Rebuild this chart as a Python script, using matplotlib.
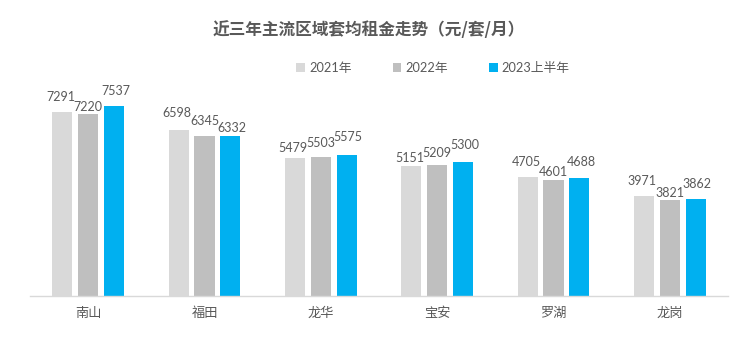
import matplotlib
matplotlib.use("Agg")
import matplotlib.pyplot as plt
from matplotlib.patches import Patch
import numpy as np

categories = ["南山", "福田", "龙华", "宝安", "罗湖", "龙岗"]
series_names = ["2021年", "2022年", "2023上半年"]
v2021 = [7291, 6598, 5479, 5151, 4705, 3971]
v2022 = [7220, 6345, 5503, 5209, 4601, 3821]
v2023h1 = [7537, 6332, 5575, 5300, 4688, 3862]

colors = ["#D9D9D9", "#BFBFBF", "#00B0F0"]
text_color = "#595959"
# label centre offsets above bar tops (px), mimicking Excel's overlap avoidance
label_dy = [
    [15, 7, 15],
    [17, 15, 8],
    [10, 14, 18],
    [8, 12, 17],
    [15, 8, 16],
    [15, 7, 15],
]
label_dx = [-1.5, 0, 1.5]

W, H = 740, 338
fig = plt.figure(figsize=(W / 100, H / 100), dpi=100)
ax_left, ax_right = 30, 728
ax_bottom = 296
ymax = 8000
px_per_unit = 190 / 7537
ax_h = ymax * px_per_unit
ax = fig.add_axes([ax_left / W, 1 - ax_bottom / H, (ax_right - ax_left) / W, ax_h / H])

x = np.arange(len(categories))
off = 0.223
bw = 0.172
series = [v2021, v2022, v2023h1]
num_font = ["Lato", "Noto Sans CJK SC"]
for j, vals in enumerate(series):
    xs = x + (j - 1) * off
    ax.bar(xs, vals, width=bw, color=colors[j], zorder=2)
    for i, (xi, v) in enumerate(zip(xs, vals)):
        ax.annotate(str(v), (xi, v), xytext=(label_dx[j] * 0.72, label_dy[i][j] * 0.72),
                    textcoords="offset points", ha="center", va="center",
                    fontsize=9.0, color=text_color, family=num_font)

ax.set_xlim(-0.5, len(categories) - 0.5)
ax.set_ylim(0, ymax)
for s in ["top", "right", "left"]:
    ax.spines[s].set_visible(False)
ax.spines["bottom"].set_color("#D9D9D9")
ax.spines["bottom"].set_linewidth(1.0)
ax.set_yticks([])
ax.set_xticks(x)
ax.set_xticklabels(categories, fontsize=9.5, color=text_color, family=["Noto Sans CJK SC"])
ax.tick_params(axis="x", length=0, pad=8)

fig.text(369 / W, 1 - 30 / H, "近三年主流区域套均租金走势（元/套/月）", ha="center", va="center",
         fontsize=12, fontweight="bold", color=text_color, family=["Noto Sans CJK SC"])

handles = [Patch(facecolor=c, edgecolor="none") for c in colors]
leg = fig.legend(handles, series_names, loc="center", bbox_to_anchor=(433 / W, 1 - 68 / H),
                 ncol=3, frameon=False, handlelength=0.7, handleheight=0.7, handletextpad=0.3,
                 columnspacing=3.2, prop={"family": num_font, "size": 9.2})
for t in leg.get_texts():
    t.set_color(text_color)

fig.savefig("out.png", dpi=100)
